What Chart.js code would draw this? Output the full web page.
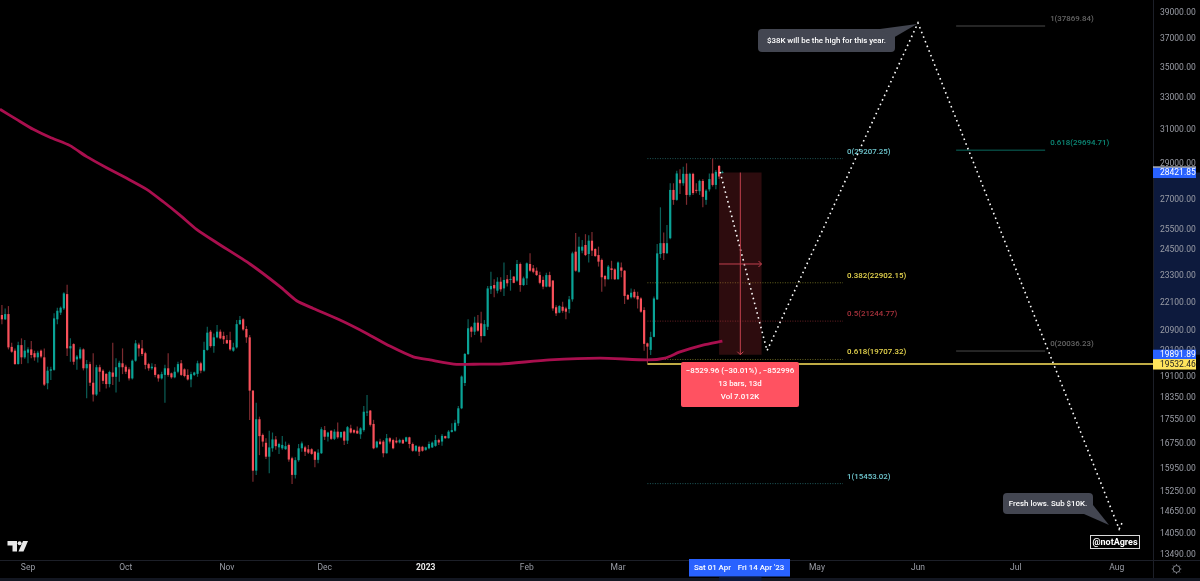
<!DOCTYPE html>
<html>

<head>
    <title>BTC</title>
    <script src="https://cdn.jsdelivr.net/npm/chart.js@4/dist/chart.umd.min.js"></script>
    <style>
        html, body { margin: 0; padding: 0; background: #000; overflow: hidden; }
        canvas { display: block; }
    </style>
</head>

<body>
    <canvas id="ctx" width="1200" height="581"></canvas>

    <script>
        // day numbers count from 1 Sep 2022, candles start 8 days earlier
        const firstDay = -8;

        const opens = [
            21500,21320,21540,20200,20050,19530,20270,19790,19970,20100,
            19950,19790,20050,19790,18810,19280,19310,21320,21600,21780,
            22400,20140,20310,19710,19750,20100,19370,19530,18830,18400,
            19410,19280,19160,18780,19210,19050,19410,19560,19430,19330,
            18990,19660,20290,20140,19950,19530,19370,19410,19130,18990,
            19120,19370,19180,19030,19240,19560,19330,19120,18950,19120,
            19160,19560,19280,20080,20810,20230,20580,20810,20640,20470,
            20470,20050,20180,21120,21320,20920,20580,18540,15850,17530,
            17000,16740,16290,16560,16850,16590,16560,16530,16670,16240,
            15720,16180,16560,16590,16530,16530,16450,16190,16400,17160,
            16940,17140,16870,17110,16920,17110,16810,17220,17160,17140,
            17020,17160,17760,17830,17370,16590,16780,16780,16400,16890,
            16830,16810,16750,16830,16780,16920,16700,16480,16610,16610,
            16510,16560,16590,16640,16830,16780,16960,16890,17100,17140,
            17390,17910,18820,19920,20990,20810,21180,21150,20630,21010,
            22610,22800,22550,22950,22650,23060,23030,23180,23000,23760,
            22800,23100,23760,23560,23450,23250,23030,22730,23250,23000,
            21830,21600,21850,21780,21750,22170,24340,23400,24390,24660,
            24230,24870,24470,24180,23950,23210,23060,23560,23510,23060,
            23600,23450,22360,22260,22500,22320,22210,21710,20340,20080,
            20600,22170,24230,24750,24270,24990,27470,26940,28030,27830,
            28350,27200,28350,27450,27400,27960,26940,27500,28370,27740,28790,28400
        ];
        const highs = [
            21930,21780,21880,20360,20140,20400,20540,20470,20180,20430,
            20050,20050,20100,20140,19430,19430,21570,21810,21860,22480,
            22810,20540,20340,19880,20180,20140,19690,19620,19950,19500,
            19500,19330,19180,19280,20360,19750,19660,20140,19500,19410,
            19710,20470,20360,20470,20010,19580,19560,19530,19150,19240,
            19500,19950,19210,19410,19620,19690,19370,19330,19240,19240,
            19660,19620,20400,21010,20880,20740,21080,20900,20810,20670,
            20810,20360,21290,21460,21360,21040,20680,18560,18110,17620,
            17050,16890,17140,17080,16960,16740,16960,16780,16720,16290,
            16270,16700,16780,16640,16670,16560,16470,16530,17260,17300,
            17110,17160,17190,17420,17110,17140,17300,17340,17190,17280,
            17260,17990,18380,17850,17510,16810,16870,16830,17030,16920,
            16870,16920,16870,16870,16940,16940,16750,16670,16640,16640,
            16610,16780,16780,17000,16870,17030,16970,17160,17390,17510,
            17990,19100,19960,21320,21040,21430,21500,21640,21290,22760,
            23400,23060,23150,23150,23830,23250,23480,23210,23950,23830,
            23180,23830,24260,23710,23600,23400,23180,23360,23400,23030,
            21920,21920,22070,21850,22320,24340,25250,25060,24900,25190,
            25140,25300,24500,24580,24020,23250,23710,23910,23560,23880,
            23830,23480,22400,22650,22610,22500,22260,21830,20370,20810,
            22290,24710,26550,25270,25650,27830,27830,28520,28600,28750,
            28940,28410,28410,27830,28030,28060,27500,28370,29207,28560,28850,28520
        ];
        const lows = [
            21120,21290,20100,19970,19500,19510,19530,19740,19560,19750,
            19660,19590,19750,18710,18590,18930,19280,21120,21500,21710,
            19840,19620,19500,19310,19710,19290,18270,18710,18150,18350,
            18500,18780,18620,18660,18750,18470,18870,19150,19150,18910,
            18950,19620,19820,19840,19330,19280,19310,19030,18870,18950,
            18110,19050,18980,19000,19180,19080,19030,18910,18660,19080,
            19050,19180,19240,20050,20170,19970,20540,20500,20310,20310,
            20050,20010,20140,21080,20850,20360,17500,15510,15720,16340,
            16610,16220,15770,16450,16510,16380,16510,16510,16130,15440,
            15610,16130,16450,16310,16380,16350,15960,16080,16380,16830,
            16780,16830,16830,16870,16890,16670,16700,17050,17050,17030,
            16870,17110,17640,17280,16530,16560,16670,16270,16390,16720,
            16530,16720,16720,16700,16770,16560,16450,16450,16310,16450,
            16480,16530,16570,16610,16670,16640,16870,16880,17080,17110,
            17300,17880,18710,19880,20580,20670,20810,20370,20630,20880,
            22400,22260,22430,22500,22320,22730,22550,22880,22950,22500,
            22760,22800,23400,23330,23210,22840,22610,22700,22700,21680,
            21460,21570,21600,21320,21570,22070,23400,23360,24260,24130,
            23830,24130,24100,23640,22500,22730,23050,23060,23030,23050,
            23150,21970,22140,22210,22210,21780,21600,20050,19560,19880,
            20580,22140,24030,23950,24230,24940,26680,26900,27250,27700,
            26680,27100,27200,27290,27200,26550,26680,27380,27650,27500,28060,28370
        ];
        const closes = [
            21320,21540,20180,20010,19530,20270,19790,20050,20100,19880,
            19790,19970,19820,18760,19280,19330,21360,21680,21810,22430,
            20140,20230,19620,19820,20100,19370,19530,18830,18400,19410,
            19240,18900,18780,19230,19050,19410,19580,19410,19240,18990,
            19660,20340,20140,19920,19500,19370,19430,19120,18990,19150,
            19370,19120,19030,19240,19530,19120,19080,18950,19150,19210,
            19560,19280,20080,20770,20230,20580,20810,20540,20500,20340,
            20100,20180,21120,21290,20900,20580,18540,15850,17530,16960,
            16780,16290,16590,16850,16630,16700,16670,16630,16200,15720,
            16180,16560,16720,16450,16420,16380,16190,16420,17190,16940,
            17080,16870,17110,16920,17100,16810,17260,17080,17080,17050,
            17220,17790,17790,17340,16560,16780,16700,16400,16890,16780,
            16560,16750,16830,16720,16920,16700,16480,16640,16450,16480,
            16590,16700,16745,16830,16750,16970,16890,17110,17160,17410,
            17910,19060,19920,20950,20810,21180,20850,20630,21120,22650,
            22760,22650,22950,22610,23030,22880,23060,22900,23760,22800,
            23100,23790,23450,23400,23250,22900,22730,23250,22730,21780,
            21570,21880,21680,21640,22170,24260,23450,24580,24580,24180,
            24870,24390,24130,23870,23150,23060,23640,23480,23060,23830,
            23450,22320,22170,22460,22260,22170,21640,20320,20210,20590,
            22210,24260,24750,24270,24750,27470,26940,28370,27830,28350,
            27200,28350,27300,27420,27960,27100,27430,28060,27740,28460,28200,28421.85
        ];

        // moving average, read at a few places
        const maDays = [-8.6,-3.5,1.6,6.7,12.9,18,24.1,30.3,36.4,41.5,46.6,51.7,57.9,68.1,77.3,82.4,87.5,95.7,103.9,111,118.2,123.3,131.5,138.7,144.8,160,175.5,190,195.4,200,207,213];
        const maValues = [32170,31540,30930,30450,29960,29320,28690,28100,27500,26840,26150,25430,24770,23760,22730,22110,21780,21290,20740,20230,19810,19690,19520,19530,19530,19690,19760,19690,19760,20000,20270,20430];

        // dotted forecast path
        const pathDays = [212.3,226.7,273,334.7,335.6];
        const pathValues = [28450,20050,38100,14140,14310];

        const yTicks = [39000,37000,35000,33000,31000,29000,27000,25500,24500,23300,22100,20900,20100,19100,18350,17550,16750,15950,15250,14650,14050,13490];
        const monthDays = [0,30,61,91,122,153,181,242,273,303,334];
        const monthNames = ['Sep','Oct','Nov','Dec','2023','Feb','Mar','May','Jun','Jul','Aug'];
        const yearDay = 122;

        // fib levels
        const fibA = { from: 190, to: 250 };
        const fibALevels = [29207.25,22902.15,21244.77,19707.32,15453.02];
        const fibARatios = ['0','0.382','0.5','0.618','1'];
        const fibAColors = ['#1f5a5c','#66641f','#6a2226','#66641f','#1f5a5c'];
        const fibATextColors = ['#6fc7cf','#e9d84f','#a8323c','#e9d84f','#6fc7cf'];
        const fibB = { from: 284.7, to: 312 };
        const fibBLevels = [37869.84,29694.71,20036.23];
        const fibBRatios = ['1','0.618','0'];
        const fibBColors = ['#4a4a4a','#0a6a5e','#4a4a4a'];
        const fibBTextColors = ['#666','#0c8a78','#666'];

        const rangeFrom = 212, rangeTo = 225;
        const rangeHigh = 28421.85, rangeLow = 19891.89;
        const rangeMidPrice = 23760;
        const supportPrice = 19532.46;

        const noteFont = '500 7.9px Roboto';
        const axisFont = '8.5px Roboto';

        const candleDays = opens.map((v, i) => firstDay + i);
        const isUp = i => closes[i] >= opens[i];
        const isYearTick = ctx => ctx.tick && ctx.tick.value === yearDay;

        const lineSet = (days, values, extra) => Object.assign({
            type: 'line',
            data: days.map((d, i) => ({ x: d, y: values[i] })),
            pointRadius: 0,
            borderWidth: 1,
            tension: 0
        }, extra);

        const datasets = [
            lineSet(pathDays, pathValues, { borderColor: '#fff', borderWidth: 1.6, borderDash: [1.6, 3.4], order: 0 }),
            lineSet([fibA.from, 345.1], [supportPrice, supportPrice], { borderColor: '#ffe45c', borderWidth: 1.6, order: 1 }),
            lineSet(maDays, maValues, { borderColor: '#a90f4e', borderWidth: 2.8, tension: 0.2, order: 2 }),
            {
                type: 'bar',
                data: [{ x: (rangeFrom + rangeTo) / 2, y: [rangeLow, rangeHigh] }],
                backgroundColor: 'rgba(190,50,60,0.24)',
                barThickness: 42.5,
                order: 3
            },
            {
                type: 'bar',
                data: candleDays.map((d, i) => ({ x: d, y: [opens[i], closes[i]] })),
                backgroundColor: ctx => isUp(ctx.dataIndex) ? '#0aa396' : '#f9505a',
                barThickness: 2.2,
                minBarLength: 1,
                order: 4
            },
            {
                type: 'bar',
                data: candleDays.map((d, i) => ({ x: d, y: [lows[i], highs[i]] })),
                backgroundColor: ctx => isUp(ctx.dataIndex) ? '#0b5f58' : '#7d2b30',
                barThickness: 1.2,
                order: 5
            }
        ];
        fibALevels.forEach((v, i) => {
            datasets.push(lineSet([fibA.from, fibA.to], [v, v], { borderColor: fibAColors[i], borderDash: [1, 1.5], order: 6 }));
        });
        fibBLevels.forEach((v, i) => {
            datasets.push(lineSet([fibB.from, fibB.to], [v, v], { borderColor: fibBColors[i], order: 6 }));
        });

        const priceBox = (c, chart, value, fill, textColor, text) => {
            const y = chart.scales.y.getPixelForValue(value);
            c.fillStyle = fill;
            c.fillRect(1153, y - 5, 43, 10.5);
            c.fillStyle = textColor;
            c.font = axisFont;
            c.textAlign = 'left';
            c.textBaseline = 'middle';
            c.fillText(text, 1160, y + 0.5);
        };

        const roundRect = (c, x, y, w, h, r) => {
            c.beginPath();
            c.roundRect(x, y, w, h, r);
        };

        const bubble = (c, x, y, w, h, tailA, tailB, tip, text) => {
            c.fillStyle = '#434651';
            roundRect(c, x, y, w, h, 4);
            c.fill();
            c.beginPath();
            c.moveTo(tailA[0], tailA[1]);
            c.lineTo(tip[0], tip[1]);
            c.lineTo(tailB[0], tailB[1]);
            c.closePath();
            c.fill();
            c.fillStyle = '#fff';
            c.font = noteFont;
            c.textAlign = 'center';
            c.textBaseline = 'middle';
            c.fillText(text, x + w / 2, y + h / 2 + 0.5);
        };

        const overlay = {
            id: 'overlay',
            beforeDraw(chart) {
                const c = chart.ctx, y = chart.scales.y, x = chart.scales.x;
                c.save();
                c.fillStyle = '#000';
                c.fillRect(0, 0, 1200, 581);
                // selected range in the axes
                c.fillStyle = '#0d1a3d';
                const top = y.getPixelForValue(rangeHigh), bottom = y.getPixelForValue(rangeLow);
                c.fillRect(1153, top, 47, bottom - top);
                c.fillStyle = '#131722';
                c.fillRect(0, 578, 1200, 3);
                c.fillStyle = '#0d1a3d';
                c.fillRect(x.getPixelForValue(rangeFrom), 577, x.getPixelForValue(rangeTo) - x.getPixelForValue(rangeFrom), 4);
                // axis borders
                c.fillStyle = '#1c1f28';
                c.fillRect(1153, 0, 1, 578);
                c.fillRect(0, 560, 1200, 1);
                c.restore();
            },
            afterDraw(chart) {
                const c = chart.ctx, y = chart.scales.y, x = chart.scales.x;
                c.save();

                // fib labels
                c.font = noteFont;
                c.textBaseline = 'middle';
                c.textAlign = 'left';
                fibALevels.forEach((v, i) => {
                    c.fillStyle = fibATextColors[i];
                    c.fillText(fibARatios[i] + '(' + v.toFixed(2) + ')', x.getPixelForValue(fibA.to) + 4, y.getPixelForValue(v) - 7);
                });
                fibBLevels.forEach((v, i) => {
                    c.fillStyle = fibBTextColors[i];
                    c.fillText(fibBRatios[i] + '(' + v.toFixed(2) + ')', x.getPixelForValue(fibB.to) + 5, y.getPixelForValue(v) - 7);
                });

                // range arrows
                const left = x.getPixelForValue(rangeFrom), right = x.getPixelForValue(rangeTo);
                const mid = (left + right) / 2;
                const top = y.getPixelForValue(rangeHigh), bottom = y.getPixelForValue(rangeLow);
                const my = y.getPixelForValue(rangeMidPrice);
                c.strokeStyle = '#c2414e';
                c.lineWidth = 1;
                c.beginPath();
                c.moveTo(mid, top); c.lineTo(mid, bottom);
                c.moveTo(mid - 3, bottom - 3); c.lineTo(mid, bottom); c.lineTo(mid + 3, bottom - 3);
                c.moveTo(left, my); c.lineTo(right, my);
                c.moveTo(right - 3, my - 3); c.lineTo(right, my); c.lineTo(right - 3, my + 3);
                c.stroke();

                // range tooltip
                c.fillStyle = '#ff5261';
                roundRect(c, 681, 362, 118, 45, 2);
                c.fill();
                c.fillStyle = '#fff';
                c.font = noteFont;
                c.textAlign = 'center';
                c.textBaseline = 'middle';
                c.fillText('\u22128529.96 (\u221230.01%) , \u2212852996', 740, 371.5);
                c.fillText('13 bars, 13d', 740, 384.5);
                c.fillText('Vol 7.012K', 740, 397.5);

                // price labels
                priceBox(c, chart, rangeHigh, '#2962ff', '#fff', '28421.85');
                c.fillStyle = '#fff';
                c.fillRect(1153, y.getPixelForValue(rangeHigh) - 6, 43, 1);
                priceBox(c, chart, rangeLow, '#2962ff', '#fff', '19891.89');
                priceBox(c, chart, supportPrice, '#ffe45c', '#222', '19532.46');

                // time labels
                c.fillStyle = '#2962ff';
                c.fillRect(689, 559, 101, 17.5);
                c.fillStyle = '#fff';
                c.font = noteFont;
                c.textAlign = 'center';
                c.textBaseline = 'middle';
                c.fillText('Sat 01 Apr', 712.5, 568);
                c.fillText("Fri 14 Apr '23", 761, 568);

                // notes
                bubble(c, 758, 29, 137, 23, [880, 29], [893, 38], [917, 24], '$38K will be the high for this year.');
                bubble(c, 1003, 493, 90, 21, [1084, 514], [1093, 505], [1109, 525], 'Fresh lows. Sub $10K.');

                c.fillStyle = '#000';
                c.strokeStyle = '#d8d8d8';
                c.lineWidth = 1;
                c.fillRect(1090, 535, 49, 13);
                c.strokeRect(1090.5, 535.5, 49, 13);
                c.fillStyle = '#fff';
                c.font = 'bold 9px Roboto';
                c.fillText('@notAgres', 1115, 542.5);

                // logo
                c.fillStyle = '#e8e8e8';
                c.beginPath();
                c.moveTo(7.5, 541); c.lineTo(17, 541); c.lineTo(17, 551.5); c.lineTo(12.5, 551.5); c.lineTo(12.5, 545.5); c.lineTo(7.5, 545.5);
                c.closePath();
                c.fill();
                c.beginPath();
                c.arc(19.6, 543.3, 2, 0, Math.PI * 2);
                c.fill();
                c.beginPath();
                c.moveTo(23, 541); c.lineTo(28, 541); c.lineTo(23.5, 551.5); c.lineTo(18.5, 551.5);
                c.closePath();
                c.fill();

                // settings icon
                c.strokeStyle = '#9a9da6';
                c.lineWidth = 0.8;
                c.beginPath();
                c.arc(1176.5, 569, 3.4, 0, Math.PI * 2);
                for (let a = 0; a < 8; a++) {
                    const t = a * Math.PI / 4;
                    c.moveTo(1176.5 + Math.cos(t) * 3.4, 569 + Math.sin(t) * 3.4);
                    c.lineTo(1176.5 + Math.cos(t) * 4.8, 569 + Math.sin(t) * 4.8);
                }
                c.stroke();

                c.restore();
            }
        };

        // the library adds half a label of padding around the plot, not wanted here
        const noPadding = axis => {
            axis.paddingTop = 0;
            axis.paddingBottom = 0;
            axis.paddingLeft = 0;
            axis.paddingRight = 0;
        };

        new Chart(document.getElementById('ctx'), {
            type: 'bar',
            data: { datasets: datasets },
            plugins: [overlay],
            options: {
                responsive: false,
                animation: false,
                layout: { padding: 0 },
                datasets: { bar: { grouped: false, inflateAmount: 0, borderWidth: 0 } },
                plugins: { legend: { display: false }, tooltip: { enabled: false }, title: { display: false } },
                events: [],
                scales: {
                    x: {
                        type: 'linear',
                        offset: false,
                        min: -8.589,
                        max: 345.09,
                        grid: { display: false, drawTicks: false, offset: false },
                        border: { display: false },
                        afterBuildTicks: axis => { axis.ticks = monthDays.map(v => ({ value: v })); },
                        afterFit: axis => { axis.height = 21; noPadding(axis); },
                        ticks: {
                            autoSkip: false,
                            maxRotation: 0,
                            padding: 3,
                            color: ctx => isYearTick(ctx) ? '#e8e8e8' : '#9a9da6',
                            font: ctx => ({ family: 'Roboto', size: 8.5, weight: isYearTick(ctx) ? 'bold' : 'normal' }),
                            callback: v => monthNames[monthDays.indexOf(v)]
                        }
                    },
                    y: {
                        type: 'logarithmic',
                        position: 'right',
                        bounds: 'data',
                        min: 13306,
                        max: 39849,
                        grid: { display: false, drawTicks: false },
                        border: { display: false },
                        afterBuildTicks: axis => { axis.ticks = yTicks.map(v => ({ value: v })); },
                        afterFit: axis => { axis.width = 47; noPadding(axis); },
                        ticks: {
                            autoSkip: false,
                            padding: 7,
                            labelOffset: 1.5,
                            color: '#9a9da6',
                            font: { family: 'Roboto', size: 8.5 },
                            callback: v => Number(v).toFixed(2)
                        }
                    }
                }
            }
        });
    </script>
</body>

</html>
